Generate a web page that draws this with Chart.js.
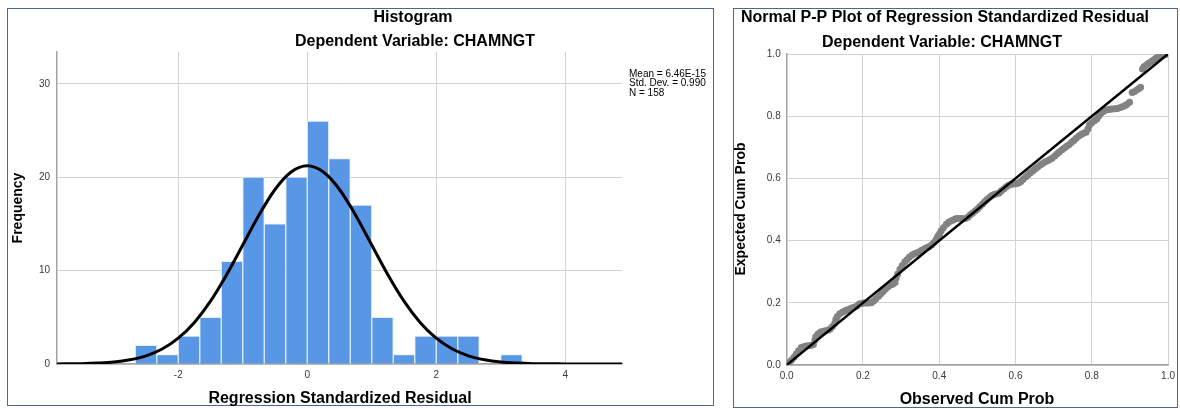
<!DOCTYPE html>
<html><head><meta charset="utf-8">
<script src="https://cdn.jsdelivr.net/npm/chart.js@4.4.1/dist/chart.umd.min.js"></script>
<style>
html,body{margin:0;padding:0;background:#fff;width:1180px;height:409px;overflow:hidden;}
.frame{position:absolute;border:1px solid #4a6796;box-sizing:border-box;}
canvas{position:absolute;top:0;}
</style></head><body>
<div class="frame" style="left:7px;top:8px;width:707px;height:398px"></div>
<div class="frame" style="left:733px;top:8px;width:445px;height:400px"></div>
<canvas id="hist" width="720" height="409" style="left:0;width:720px;height:409px"></canvas>
<canvas id="pp" width="460" height="409" style="left:720px;width:460px;height:409px"></canvas>
<script>
// ---------- Histogram data ----------
const binCenters = [-2.5, -2.1667, -1.8333, -1.5, -1.1667, -0.8333, -0.5, -0.1667, 0.1667, 0.5, 0.8333, 1.1667, 1.5, 1.8333, 2.1667, 2.5, 2.8333, 3.1667];
const binCounts  = [2, 1, 3, 5, 11, 20, 15, 20, 26, 22, 17, 5, 1, 3, 3, 3, 0, 1];
const curveX = [-3.88, -3.5, -3.25, -3.0, -2.75, -2.5, -2.25, -2.0, -1.75, -1.5, -1.25, -1.0, -0.75, -0.5, -0.25, 0, 0.25, 0.5, 0.75, 1.0, 1.25, 1.5, 1.75, 2.0, 2.25, 2.5, 2.75, 3.0, 3.25, 3.5, 4.0, 4.5, 4.88];
const curveY = [0.01, 0.04, 0.10, 0.21, 0.45, 0.87, 1.60, 2.76, 4.45, 6.73, 9.56, 12.74, 15.93, 18.68, 20.55, 21.22, 20.55, 18.68, 15.93, 12.74, 9.56, 6.73, 4.45, 2.76, 1.60, 0.87, 0.45, 0.21, 0.10, 0.04, 0.01, 0.00, 0.00];
const histXTicks = [-2, 0, 2, 4];
const histYTicks = [0, 10, 20, 30];
const histTitle = 'Histogram';
const subTitle = 'Dependent Variable: CHAMNGT';
const histXTitle = 'Regression Standardized Residual';
const histYTitle = 'Frequency';
const statsLines = ['Mean = 6.46E-15', 'Std. Dev. = 0.990', 'N = 158'];

// ---------- P-P plot data ----------
const ppObserved = [0.000,0.006,0.012,0.019,0.025,0.031,0.038,0.044,0.051,0.057,0.063,0.070,0.074,0.076,0.082,0.089,0.095,0.101,0.108,0.114,0.120,0.126,0.129,0.133,0.139,0.146,0.152,0.158,0.165,0.171,0.177,0.184,0.190,0.196,0.203,0.209,0.215,0.222,0.228,0.234,0.241,0.247,0.253,0.259,0.266,0.272,0.278,0.284,0.287,0.291,0.297,0.303,0.310,0.316,0.322,0.329,0.335,0.342,0.348,0.354,0.361,0.367,0.373,0.380,0.386,0.392,0.396,0.401,0.405,0.411,0.418,0.424,0.430,0.437,0.443,0.449,0.456,0.462,0.468,0.475,0.481,0.487,0.494,0.500,0.506,0.513,0.519,0.525,0.532,0.538,0.544,0.551,0.557,0.563,0.570,0.576,0.582,0.589,0.595,0.601,0.608,0.614,0.620,0.627,0.633,0.639,0.646,0.652,0.658,0.665,0.671,0.677,0.684,0.690,0.696,0.703,0.709,0.715,0.722,0.728,0.734,0.741,0.747,0.753,0.759,0.766,0.772,0.778,0.785,0.790,0.794,0.800,0.807,0.813,0.818,0.823,0.829,0.835,0.842,0.848,0.854,0.861,0.867,0.873,0.880,0.886,0.892,0.899,0.906,0.911,0.918,0.924,0.928,0.933,0.937,0.943,0.949,0.956,0.962,0.968,0.975,0.981,0.987,0.994,1.000];
const ppExpected = [0.000,0.007,0.015,0.025,0.035,0.046,0.056,0.059,0.061,0.062,0.063,0.066,0.080,0.091,0.100,0.106,0.108,0.110,0.112,0.116,0.124,0.134,0.147,0.156,0.165,0.170,0.174,0.177,0.180,0.183,0.186,0.190,0.196,0.198,0.199,0.199,0.199,0.200,0.206,0.213,0.221,0.229,0.236,0.244,0.252,0.257,0.260,0.265,0.280,0.293,0.308,0.320,0.332,0.339,0.347,0.354,0.358,0.361,0.364,0.369,0.374,0.377,0.380,0.386,0.394,0.404,0.414,0.422,0.432,0.441,0.452,0.458,0.463,0.466,0.470,0.471,0.471,0.470,0.471,0.475,0.482,0.488,0.495,0.501,0.509,0.517,0.525,0.532,0.539,0.545,0.548,0.551,0.553,0.560,0.567,0.573,0.578,0.581,0.582,0.583,0.585,0.590,0.597,0.605,0.612,0.618,0.625,0.631,0.637,0.643,0.648,0.653,0.657,0.661,0.665,0.672,0.679,0.685,0.692,0.698,0.703,0.709,0.716,0.722,0.729,0.736,0.741,0.745,0.748,0.760,0.772,0.779,0.785,0.791,0.800,0.808,0.814,0.819,0.821,0.822,0.823,0.824,0.825,0.827,0.830,0.834,0.838,0.845,0.876,0.879,0.884,0.889,0.893,0.952,0.959,0.965,0.970,0.976,0.981,0.986,0.990,0.994,0.997,0.999,1.000];
const refLineX = [0, 1];
const refLineY = [0, 1];
const ppTicks = [0, 0.2, 0.4, 0.6, 0.8, 1.0];
const ppTitle = 'Normal P-P Plot of Regression Standardized Residual';
const ppXTitle = 'Observed Cum Prob';
const ppYTitle = 'Expected Cum Prob';

// ---------- shared styling ----------
const FAM = '"Liberation Sans", Arial, Helvetica, sans-serif';
const TITLE_FONT = 'bold 16px ' + FAM;
const TICK_FONT = { family: FAM, size: 10 };
const GRID = '#d2d2d2';
const AXIS = '#a3a3a3';
const TICK_COLOR = '#3a3a3a';

function textPlugin(items) {
  return {
    id: 'panelText',
    afterDraw(chart) {
      const ctx = chart.ctx;
      items.forEach(it => {
        ctx.save();
        ctx.font = it.font;
        ctx.fillStyle = it.color || '#000';
        ctx.textAlign = it.align || 'center';
        ctx.textBaseline = 'middle';
        ctx.translate(it.x, it.y);
        if (it.rotate) ctx.rotate(it.rotate);
        ctx.fillText(it.text, 0, 0);
        ctx.restore();
      });
    }
  };
}

Chart.defaults.font.family = FAM;

// ---------- Histogram ----------
new Chart(document.getElementById('hist'), {
  type: 'bar',
  data: {
    datasets: [
      {
        type: 'line',
        data: curveX.map((x, i) => ({ x: x, y: curveY[i] })),
        borderColor: '#000',
        borderWidth: 3,
        pointRadius: 0,
        cubicInterpolationMode: 'monotone',
        fill: false,
        order: 0
      },
      {
        type: 'bar',
        data: binCenters.map((x, i) => ({ x: x, y: binCounts[i] })),
        backgroundColor: '#5797e5',
        borderColor: 'rgba(225,236,250,0.95)',
        borderWidth: 1,
        barPercentage: 1,
        categoryPercentage: 1,
        order: 1
      }
    ]
  },
  options: {
    responsive: false,
    animation: false,
    events: [],
    layout: { padding: { left: 0, top: 52, right: 98, bottom: 0 } },
    plugins: { legend: { display: false }, tooltip: { enabled: false } },
    scales: {
      x: {
        type: 'linear', min: -3.88, max: 4.88, offset: false,
        afterBuildTicks: s => { s.ticks = histXTicks.map(v => ({ value: v })); },
        ticks: { color: TICK_COLOR, font: TICK_FONT, padding: 5, maxRotation: 0 },
        grid: { color: GRID, drawTicks: false, offset: false },
        border: { color: AXIS, width: 1.5 },
        afterFit: s => { s.height = 45; }
      },
      y: {
        type: 'linear', min: 0, max: 33.4,
        afterBuildTicks: s => { s.ticks = histYTicks.map(v => ({ value: v })); },
        ticks: { color: TICK_COLOR, font: TICK_FONT, padding: 7 },
        grid: { color: GRID, drawTicks: false },
        border: { color: AXIS, width: 1.5 },
        afterFit: s => { s.width = 57; }
      }
    }
  },
  plugins: [textPlugin([
    { text: histTitle, x: 413, y: 17.5, font: TITLE_FONT },
    { text: subTitle, x: 415, y: 42, font: TITLE_FONT },
    { text: histXTitle, x: 340, y: 399, font: TITLE_FONT },
    { text: histYTitle, x: 18, y: 208, font: 'bold 14px ' + FAM, rotate: -Math.PI / 2 },
    { text: statsLines[0], x: 629, y: 74, font: '10px ' + FAM, align: 'left' },
    { text: statsLines[1], x: 629, y: 83.5, font: '10px ' + FAM, align: 'left' },
    { text: statsLines[2], x: 629, y: 93, font: '10px ' + FAM, align: 'left' }
  ])]
});

// ---------- P-P plot ----------
new Chart(document.getElementById('pp'), {
  type: 'scatter',
  data: {
    datasets: [
      {
        data: refLineX.map((x, i) => ({ x: x, y: refLineY[i] })),
        showLine: true,
        borderColor: '#000',
        borderWidth: 2.5,
        pointRadius: 0,
        order: 0
      },
      {
        data: ppObserved.map((x, i) => ({ x: x, y: ppExpected[i] })),
        pointRadius: 3.5,
        pointBackgroundColor: '#828282',
        pointBorderWidth: 0,
        backgroundColor: '#828282',
        borderColor: '#828282',
        order: 1
      }
    ]
  },
  options: {
    responsive: false,
    animation: false,
    events: [],
    layout: { padding: { left: 0, top: 54, right: 11.3, bottom: 0 } },
    plugins: { legend: { display: false }, tooltip: { enabled: false } },
    scales: {
      x: {
        type: 'linear', min: 0, max: 1,
        afterBuildTicks: s => { s.ticks = ppTicks.map(v => ({ value: v })); },
        ticks: { color: TICK_COLOR, font: TICK_FONT, padding: 5, maxRotation: 0, callback: v => v.toFixed(1) },
        grid: { color: GRID, drawTicks: false },
        border: { color: AXIS, width: 1.5 },
        afterFit: s => { s.height = 44; }
      },
      y: {
        type: 'linear', min: 0, max: 1,
        afterBuildTicks: s => { s.ticks = ppTicks.map(v => ({ value: v })); },
        ticks: { color: TICK_COLOR, font: TICK_FONT, padding: 6, callback: v => v.toFixed(1) },
        grid: { color: GRID, drawTicks: false },
        border: { color: AXIS, width: 1.5 },
        afterFit: s => { s.width = 66.7; }
      }
    }
  },
  plugins: [textPlugin([
    { text: ppTitle, x: 225, y: 17.5, font: TITLE_FONT },
    { text: subTitle, x: 222, y: 42.5, font: TITLE_FONT },
    { text: ppXTitle, x: 257, y: 400, font: TITLE_FONT },
    { text: ppYTitle, x: 21, y: 209, font: 'bold 14px ' + FAM, rotate: -Math.PI / 2 }
  ])]
});
</script>
</body></html>
